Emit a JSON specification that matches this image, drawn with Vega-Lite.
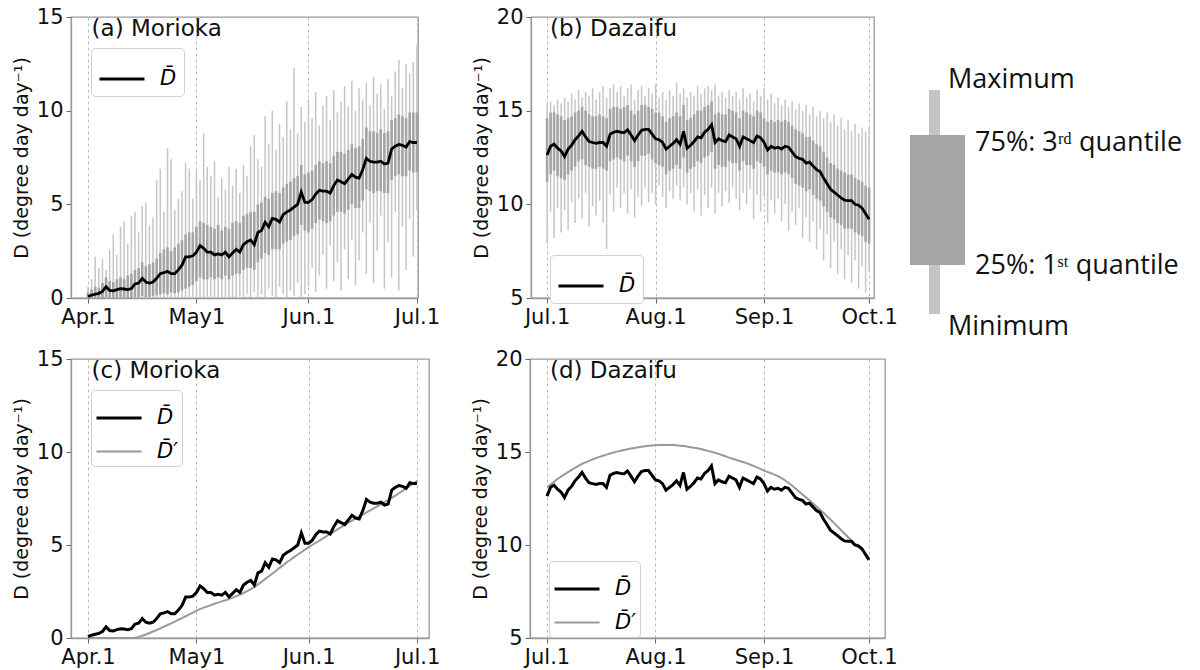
{
"$schema": "https://vega.github.io/schema/vega-lite/v6.json",
"background": "white",
"padding": {"left": 11, "top": 5, "right": 0, "bottom": 0},
"config": {
 "font": "DejaVu Sans",
 "view": {"stroke": "#999", "strokeWidth": 1.3},
 "axis": {"labelFont": "DejaVu Sans", "labelFontSize": 21, "labelColor": "#111", "tickColor": "#666", "tickSize": 5, "domainColor": "#999", "domainWidth": 1.3, "titleFont": "DejaVu Sans", "titleFontSize": 19, "titleFontWeight": "normal", "titleColor": "#111", "labelPadding": 3, "labelFlush": false, "labelOverlap": false},
 "axisX": {"grid": true, "gridDash": [3, 3], "gridColor": "#bbb", "gridWidth": 1},
 "axisY": {"grid": false, "titlePadding": 5},
 "legend": {"orient": "none", "fillColor": "white", "strokeColor": "#d0d0d0", "cornerRadius": 4, "padding": 7, "symbolType": "stroke", "symbolSize": 2025, "labelFont": "DejaVu Sans", "labelFontSize": 21, "labelFontStyle": "italic", "labelOffset": 14, "rowPadding": 0}
},
"datasets": {
 "mor": [
{"d":0,"m":0.08,"q1":0,"q3":0.3,"mn":0,"mx":0.6,"p":0},
{"d":1,"m":0.15,"q1":0,"q3":0.45,"mn":0,"mx":1.0,"p":0},
{"d":2,"m":0.2,"q1":0,"q3":0.6,"mn":0,"mx":2.2,"p":0},
{"d":3,"m":0.25,"q1":0,"q3":0.55,"mn":0,"mx":1.6,"p":0},
{"d":4,"m":0.35,"q1":0,"q3":0.8,"mn":0,"mx":2.1,"p":0},
{"d":5,"m":0.6,"q1":0.05,"q3":1.1,"mn":0,"mx":1.5,"p":0},
{"d":6,"m":0.4,"q1":0,"q3":0.9,"mn":0,"mx":2.6,"p":0},
{"d":7,"m":0.38,"q1":0,"q3":0.85,"mn":0,"mx":3.4,"p":0},
{"d":8,"m":0.45,"q1":0,"q3":1.0,"mn":0,"mx":2.3,"p":0},
{"d":9,"m":0.5,"q1":0,"q3":1.1,"mn":0,"mx":3.8,"p":0},
{"d":10,"m":0.48,"q1":0,"q3":1.0,"mn":0,"mx":4.1,"p":0},
{"d":11,"m":0.45,"q1":0,"q3":1.2,"mn":0,"mx":2.9,"p":0},
{"d":12,"m":0.5,"q1":0,"q3":1.3,"mn":0,"mx":4.4,"p":0},
{"d":13,"m":0.75,"q1":0.05,"q3":1.5,"mn":0,"mx":4.6,"p":0.02},
{"d":14,"m":0.8,"q1":0.05,"q3":1.6,"mn":0,"mx":3.5,"p":0.06},
{"d":15,"m":1.05,"q1":0.1,"q3":1.9,"mn":0,"mx":4.9,"p":0.12},
{"d":16,"m":0.85,"q1":0.05,"q3":1.7,"mn":0,"mx":5.1,"p":0.19},
{"d":17,"m":0.8,"q1":0.05,"q3":1.8,"mn":0,"mx":3.9,"p":0.27},
{"d":18,"m":0.85,"q1":0.1,"q3":1.9,"mn":0,"mx":4.3,"p":0.35},
{"d":19,"m":1.05,"q1":0.15,"q3":2.1,"mn":0,"mx":6.3,"p":0.43},
{"d":20,"m":1.3,"q1":0.2,"q3":2.4,"mn":0,"mx":6.9,"p":0.52},
{"d":21,"m":1.35,"q1":0.25,"q3":2.6,"mn":0,"mx":4.6,"p":0.61},
{"d":22,"m":1.42,"q1":0.2,"q3":2.7,"mn":0,"mx":8.0,"p":0.7},
{"d":23,"m":1.3,"q1":0.3,"q3":2.5,"mn":0,"mx":7.4,"p":0.79},
{"d":24,"m":1.3,"q1":0.25,"q3":2.7,"mn":0,"mx":4.7,"p":0.88},
{"d":25,"m":1.5,"q1":0.3,"q3":2.9,"mn":0,"mx":5.3,"p":0.98},
{"d":26,"m":1.75,"q1":0.4,"q3":3.1,"mn":0,"mx":5.7,"p":1.07},
{"d":27,"m":2.2,"q1":0.5,"q3":3.4,"mn":0,"mx":7.2,"p":1.17},
{"d":28,"m":2.2,"q1":0.6,"q3":3.5,"mn":0,"mx":6.9,"p":1.27},
{"d":29,"m":2.25,"q1":0.7,"q3":3.5,"mn":0,"mx":5.3,"p":1.37},
{"d":30,"m":2.45,"q1":0.9,"q3":3.8,"mn":0,"mx":6.8,"p":1.47},
{"d":31,"m":2.8,"q1":1.1,"q3":4.1,"mn":0,"mx":6.3,"p":1.55},
{"d":32,"m":2.65,"q1":1.0,"q3":4.0,"mn":0,"mx":8.8,"p":1.63},
{"d":33,"m":2.45,"q1":1.0,"q3":3.9,"mn":0,"mx":7.0,"p":1.7},
{"d":34,"m":2.45,"q1":1.1,"q3":3.8,"mn":0,"mx":6.5,"p":1.77},
{"d":35,"m":2.3,"q1":1.0,"q3":3.7,"mn":0,"mx":7.3,"p":1.84},
{"d":36,"m":2.35,"q1":1.1,"q3":3.9,"mn":0,"mx":5.4,"p":1.9},
{"d":37,"m":2.3,"q1":1.0,"q3":3.6,"mn":0,"mx":6.4,"p":1.97},
{"d":38,"m":2.45,"q1":1.2,"q3":3.8,"mn":0,"mx":5.8,"p":2.03},
{"d":39,"m":2.2,"q1":1.0,"q3":3.7,"mn":0,"mx":7.0,"p":2.1},
{"d":40,"m":2.4,"q1":1.2,"q3":4.0,"mn":0,"mx":6.0,"p":2.17},
{"d":41,"m":2.6,"q1":1.3,"q3":4.1,"mn":0,"mx":6.9,"p":2.25},
{"d":42,"m":2.45,"q1":1.3,"q3":4.0,"mn":0.1,"mx":5.6,"p":2.33},
{"d":43,"m":2.85,"q1":1.5,"q3":4.4,"mn":0,"mx":7.1,"p":2.42},
{"d":44,"m":3.0,"q1":1.6,"q3":4.5,"mn":0.2,"mx":6.5,"p":2.52},
{"d":45,"m":3.1,"q1":1.6,"q3":4.6,"mn":0,"mx":8.1,"p":2.63},
{"d":46,"m":2.85,"q1":1.5,"q3":4.6,"mn":0.3,"mx":8.7,"p":2.75},
{"d":47,"m":3.5,"q1":1.9,"q3":5.0,"mn":0,"mx":7.4,"p":2.88},
{"d":48,"m":3.6,"q1":2.1,"q3":5.1,"mn":0.2,"mx":7.0,"p":3.02},
{"d":49,"m":4.05,"q1":2.4,"q3":5.4,"mn":0,"mx":9.7,"p":3.17},
{"d":50,"m":3.8,"q1":2.3,"q3":5.3,"mn":0.5,"mx":8.2,"p":3.32},
{"d":51,"m":4.25,"q1":2.6,"q3":5.6,"mn":0.1,"mx":10.0,"p":3.47},
{"d":52,"m":4.2,"q1":2.6,"q3":5.7,"mn":0,"mx":7.9,"p":3.62},
{"d":53,"m":4.05,"q1":2.6,"q3":5.6,"mn":0.6,"mx":9.3,"p":3.77},
{"d":54,"m":4.45,"q1":2.9,"q3":5.9,"mn":0.2,"mx":8.6,"p":3.92},
{"d":55,"m":4.6,"q1":3.0,"q3":6.1,"mn":0,"mx":10.5,"p":4.07},
{"d":56,"m":4.7,"q1":3.1,"q3":6.2,"mn":0.4,"mx":9.0,"p":4.21},
{"d":57,"m":4.85,"q1":3.3,"q3":6.4,"mn":0.1,"mx":12.3,"p":4.35},
{"d":58,"m":5.0,"q1":3.4,"q3":6.5,"mn":0.8,"mx":8.8,"p":4.49},
{"d":59,"m":5.65,"q1":3.9,"q3":7.1,"mn":0,"mx":10.2,"p":4.62},
{"d":60,"m":5.1,"q1":3.6,"q3":6.6,"mn":0.2,"mx":9.4,"p":4.75},
{"d":61,"m":5.1,"q1":3.5,"q3":6.7,"mn":0.6,"mx":10.6,"p":4.88},
{"d":62,"m":5.25,"q1":3.7,"q3":6.8,"mn":1.6,"mx":9.6,"p":5.0},
{"d":63,"m":5.55,"q1":4.0,"q3":7.1,"mn":0.3,"mx":11.0,"p":5.12},
{"d":64,"m":5.75,"q1":4.2,"q3":7.3,"mn":1.2,"mx":9.2,"p":5.24},
{"d":65,"m":5.7,"q1":4.1,"q3":7.2,"mn":2.3,"mx":10.3,"p":5.36},
{"d":66,"m":5.7,"q1":4.0,"q3":7.3,"mn":0.5,"mx":10.8,"p":5.48},
{"d":67,"m":5.6,"q1":4.1,"q3":7.2,"mn":2.8,"mx":9.5,"p":5.6},
{"d":68,"m":6.0,"q1":4.4,"q3":7.6,"mn":0.9,"mx":11.1,"p":5.72},
{"d":69,"m":6.3,"q1":4.6,"q3":7.8,"mn":1.9,"mx":9.9,"p":5.84},
{"d":70,"m":6.2,"q1":4.6,"q3":7.8,"mn":0.4,"mx":10.5,"p":5.96},
{"d":71,"m":6.1,"q1":4.5,"q3":7.7,"mn":2.6,"mx":11.3,"p":6.08},
{"d":72,"m":6.35,"q1":4.7,"q3":7.9,"mn":1.0,"mx":10.2,"p":6.2},
{"d":73,"m":6.6,"q1":5.0,"q3":8.2,"mn":3.1,"mx":11.6,"p":6.31},
{"d":74,"m":6.45,"q1":4.8,"q3":8.0,"mn":0.7,"mx":10.0,"p":6.42},
{"d":75,"m":6.4,"q1":4.8,"q3":8.1,"mn":2.0,"mx":11.2,"p":6.53},
{"d":76,"m":6.85,"q1":5.2,"q3":8.5,"mn":3.5,"mx":10.6,"p":6.64},
{"d":77,"m":7.45,"q1":5.8,"q3":9.1,"mn":1.3,"mx":11.5,"p":6.75},
{"d":78,"m":7.3,"q1":5.7,"q3":8.9,"mn":4.0,"mx":10.3,"p":6.86},
{"d":79,"m":7.25,"q1":5.6,"q3":8.9,"mn":0.8,"mx":11.8,"p":6.97},
{"d":80,"m":7.25,"q1":5.7,"q3":8.8,"mn":2.5,"mx":10.9,"p":7.08},
{"d":81,"m":7.3,"q1":5.7,"q3":9.0,"mn":4.4,"mx":11.4,"p":7.19},
{"d":82,"m":7.15,"q1":5.6,"q3":8.8,"mn":0.5,"mx":10.1,"p":7.3},
{"d":83,"m":7.2,"q1":5.6,"q3":8.9,"mn":3.0,"mx":11.7,"p":7.41},
{"d":84,"m":7.95,"q1":6.3,"q3":9.5,"mn":1.1,"mx":10.8,"p":7.53},
{"d":85,"m":8.1,"q1":6.5,"q3":9.6,"mn":4.6,"mx":12.1,"p":7.65},
{"d":86,"m":8.2,"q1":6.6,"q3":9.8,"mn":0.4,"mx":12.7,"p":7.78},
{"d":87,"m":8.15,"q1":6.5,"q3":9.7,"mn":3.8,"mx":11.2,"p":7.91},
{"d":88,"m":8.05,"q1":6.5,"q3":9.6,"mn":1.5,"mx":12.5,"p":8.04},
{"d":89,"m":8.35,"q1":6.8,"q3":9.9,"mn":4.2,"mx":12.0,"p":8.17},
{"d":90,"m":8.3,"q1":6.7,"q3":9.9,"mn":2.2,"mx":12.6,"p":8.3},
{"d":91,"m":8.3,"q1":6.7,"q3":9.9,"mn":4.7,"mx":13.5,"p":8.45}
 ],
 "daz": [
{"d":0,"m":12.63,"q1":11.2,"q3":14.6,"mn":7.9,"mx":15.4,"p":13.1},
{"d":1,"m":13.1,"q1":11.6,"q3":14.9,"mn":9.6,"mx":15.5,"p":13.25},
{"d":2,"m":13.22,"q1":11.8,"q3":14.9,"mn":8.2,"mx":15.3,"p":13.4},
{"d":3,"m":13.0,"q1":11.5,"q3":14.8,"mn":9.8,"mx":15.6,"p":13.55},
{"d":4,"m":12.85,"q1":11.4,"q3":14.7,"mn":8.5,"mx":15.4,"p":13.68},
{"d":5,"m":12.55,"q1":11.3,"q3":14.5,"mn":9.7,"mx":15.7,"p":13.8},
{"d":6,"m":12.95,"q1":11.6,"q3":14.6,"mn":8.6,"mx":15.5,"p":13.92},
{"d":7,"m":13.15,"q1":11.8,"q3":14.7,"mn":10.1,"mx":15.9,"p":14.04},
{"d":8,"m":13.45,"q1":12.0,"q3":14.9,"mn":9.0,"mx":15.6,"p":14.15},
{"d":9,"m":13.65,"q1":12.3,"q3":15.0,"mn":10.3,"mx":16.1,"p":14.26},
{"d":10,"m":13.9,"q1":12.4,"q3":15.2,"mn":9.2,"mx":15.7,"p":14.36},
{"d":11,"m":13.6,"q1":12.1,"q3":15.0,"mn":10.6,"mx":16.0,"p":14.44},
{"d":12,"m":13.35,"q1":12.0,"q3":14.8,"mn":8.8,"mx":15.8,"p":14.52},
{"d":13,"m":13.3,"q1":11.9,"q3":14.7,"mn":9.9,"mx":16.2,"p":14.6},
{"d":14,"m":13.26,"q1":11.9,"q3":14.7,"mn":9.4,"mx":15.6,"p":14.67},
{"d":15,"m":13.3,"q1":12.0,"q3":14.8,"mn":10.2,"mx":16.0,"p":14.74},
{"d":16,"m":13.3,"q1":11.9,"q3":14.7,"mn":9.0,"mx":16.3,"p":14.8},
{"d":17,"m":13.1,"q1":11.8,"q3":14.6,"mn":7.6,"mx":15.7,"p":14.86},
{"d":18,"m":13.75,"q1":12.3,"q3":15.1,"mn":10.5,"mx":16.2,"p":14.92},
{"d":19,"m":13.85,"q1":12.4,"q3":15.2,"mn":9.6,"mx":16.4,"p":14.97},
{"d":20,"m":13.9,"q1":12.5,"q3":15.2,"mn":10.9,"mx":16.0,"p":15.02},
{"d":21,"m":13.85,"q1":12.4,"q3":15.1,"mn":9.8,"mx":16.3,"p":15.07},
{"d":22,"m":13.82,"q1":12.3,"q3":15.2,"mn":10.6,"mx":15.8,"p":15.11},
{"d":23,"m":13.98,"q1":12.6,"q3":15.3,"mn":9.5,"mx":16.2,"p":15.15},
{"d":24,"m":13.7,"q1":12.3,"q3":15.0,"mn":10.8,"mx":16.4,"p":15.19},
{"d":25,"m":13.4,"q1":12.0,"q3":14.8,"mn":9.3,"mx":15.6,"p":15.22},
{"d":26,"m":13.7,"q1":12.3,"q3":15.0,"mn":10.4,"mx":16.1,"p":15.25},
{"d":27,"m":13.95,"q1":12.6,"q3":15.3,"mn":9.9,"mx":16.3,"p":15.28},
{"d":28,"m":14.0,"q1":12.6,"q3":15.3,"mn":10.9,"mx":15.8,"p":15.31},
{"d":29,"m":14.0,"q1":12.7,"q3":15.2,"mn":10.1,"mx":16.2,"p":15.33},
{"d":30,"m":13.75,"q1":12.4,"q3":15.1,"mn":10.6,"mx":15.9,"p":15.35},
{"d":31,"m":13.5,"q1":12.2,"q3":14.9,"mn":10.0,"mx":16.4,"p":15.36},
{"d":32,"m":13.45,"q1":12.1,"q3":14.9,"mn":11.0,"mx":15.7,"p":15.37},
{"d":33,"m":13.3,"q1":12.0,"q3":14.7,"mn":10.4,"mx":16.0,"p":15.38},
{"d":34,"m":12.95,"q1":11.6,"q3":14.4,"mn":9.8,"mx":15.6,"p":15.38},
{"d":35,"m":13.1,"q1":11.8,"q3":14.6,"mn":10.7,"mx":16.1,"p":15.38},
{"d":36,"m":13.25,"q1":11.9,"q3":14.7,"mn":10.3,"mx":15.8,"p":15.37},
{"d":37,"m":13.45,"q1":12.1,"q3":14.9,"mn":11.0,"mx":16.5,"p":15.36},
{"d":38,"m":13.2,"q1":11.9,"q3":14.7,"mn":10.2,"mx":15.9,"p":15.34},
{"d":39,"m":13.9,"q1":12.5,"q3":15.3,"mn":10.9,"mx":16.2,"p":15.32},
{"d":40,"m":13.0,"q1":11.7,"q3":14.5,"mn":10.0,"mx":15.7,"p":15.29},
{"d":41,"m":13.15,"q1":11.9,"q3":14.6,"mn":10.6,"mx":16.0,"p":15.26},
{"d":42,"m":13.35,"q1":12.0,"q3":14.8,"mn":9.6,"mx":15.8,"p":15.23},
{"d":43,"m":13.6,"q1":12.3,"q3":15.0,"mn":10.8,"mx":16.3,"p":15.2},
{"d":44,"m":13.55,"q1":12.2,"q3":15.0,"mn":9.4,"mx":15.9,"p":15.16},
{"d":45,"m":13.85,"q1":12.5,"q3":15.2,"mn":10.5,"mx":16.2,"p":15.11},
{"d":46,"m":14.0,"q1":12.6,"q3":15.3,"mn":9.8,"mx":16.3,"p":15.06},
{"d":47,"m":14.25,"q1":12.8,"q3":15.5,"mn":10.9,"mx":16.1,"p":15.01},
{"d":48,"m":13.3,"q1":11.9,"q3":14.8,"mn":9.5,"mx":16.4,"p":14.96},
{"d":49,"m":13.5,"q1":12.1,"q3":14.9,"mn":10.6,"mx":15.8,"p":14.9},
{"d":50,"m":13.4,"q1":12.0,"q3":14.8,"mn":9.9,"mx":16.0,"p":14.84},
{"d":51,"m":13.35,"q1":12.0,"q3":14.8,"mn":10.7,"mx":15.7,"p":14.77},
{"d":52,"m":13.7,"q1":12.3,"q3":15.1,"mn":10.1,"mx":16.1,"p":14.7},
{"d":53,"m":13.6,"q1":12.2,"q3":15.0,"mn":10.9,"mx":15.8,"p":14.64},
{"d":54,"m":13.5,"q1":12.2,"q3":14.9,"mn":10.3,"mx":16.0,"p":14.58},
{"d":55,"m":13.1,"q1":11.8,"q3":14.6,"mn":9.7,"mx":15.6,"p":14.52},
{"d":56,"m":13.6,"q1":12.3,"q3":15.0,"mn":10.6,"mx":16.2,"p":14.46},
{"d":57,"m":13.5,"q1":12.1,"q3":14.9,"mn":10.0,"mx":15.7,"p":14.4},
{"d":58,"m":13.4,"q1":12.1,"q3":14.8,"mn":10.8,"mx":15.9,"p":14.33},
{"d":59,"m":13.3,"q1":11.9,"q3":14.7,"mn":9.2,"mx":15.5,"p":14.25},
{"d":60,"m":13.65,"q1":12.3,"q3":15.0,"mn":10.5,"mx":16.1,"p":14.17},
{"d":61,"m":13.55,"q1":12.2,"q3":14.9,"mn":9.6,"mx":15.8,"p":14.09},
{"d":62,"m":13.3,"q1":12.0,"q3":14.6,"mn":10.4,"mx":16.2,"p":14.0},
{"d":63,"m":12.9,"q1":11.6,"q3":14.4,"mn":9.0,"mx":15.6,"p":13.93},
{"d":64,"m":13.1,"q1":11.8,"q3":14.5,"mn":10.2,"mx":15.9,"p":13.86},
{"d":65,"m":13.0,"q1":11.7,"q3":14.4,"mn":9.5,"mx":15.4,"p":13.78},
{"d":66,"m":13.05,"q1":11.7,"q3":14.5,"mn":10.3,"mx":15.7,"p":13.7},
{"d":67,"m":12.95,"q1":11.6,"q3":14.4,"mn":9.1,"mx":15.3,"p":13.6},
{"d":68,"m":13.1,"q1":11.7,"q3":14.5,"mn":10.0,"mx":15.6,"p":13.48},
{"d":69,"m":13.05,"q1":11.6,"q3":14.4,"mn":8.6,"mx":15.2,"p":13.35},
{"d":70,"m":12.8,"q1":11.4,"q3":14.2,"mn":9.6,"mx":15.5,"p":13.2},
{"d":71,"m":12.55,"q1":11.1,"q3":14.0,"mn":8.9,"mx":15.1,"p":13.04},
{"d":72,"m":12.45,"q1":11.0,"q3":13.9,"mn":9.8,"mx":15.4,"p":12.88},
{"d":73,"m":12.4,"q1":10.9,"q3":13.8,"mn":8.2,"mx":15.0,"p":12.72},
{"d":74,"m":12.2,"q1":10.7,"q3":13.6,"mn":9.3,"mx":15.3,"p":12.56},
{"d":75,"m":12.25,"q1":10.8,"q3":13.6,"mn":8.0,"mx":14.8,"p":12.4},
{"d":76,"m":12.05,"q1":10.5,"q3":13.4,"mn":9.1,"mx":15.2,"p":12.24},
{"d":77,"m":11.85,"q1":10.3,"q3":13.2,"mn":7.6,"mx":14.7,"p":12.07},
{"d":78,"m":11.75,"q1":10.2,"q3":13.1,"mn":8.7,"mx":15.0,"p":11.9},
{"d":79,"m":11.4,"q1":9.9,"q3":12.8,"mn":7.0,"mx":14.6,"p":11.73},
{"d":80,"m":11.1,"q1":9.6,"q3":12.5,"mn":8.4,"mx":14.9,"p":11.55},
{"d":81,"m":10.8,"q1":9.3,"q3":12.2,"mn":6.6,"mx":14.4,"p":11.37},
{"d":82,"m":10.65,"q1":9.2,"q3":12.1,"mn":8.0,"mx":14.8,"p":11.19},
{"d":83,"m":10.5,"q1":9.0,"q3":11.9,"mn":6.3,"mx":14.2,"p":11.0},
{"d":84,"m":10.35,"q1":8.9,"q3":11.8,"mn":7.6,"mx":14.6,"p":10.81},
{"d":85,"m":10.22,"q1":8.7,"q3":11.7,"mn":6.0,"mx":14.0,"p":10.62},
{"d":86,"m":10.2,"q1":8.7,"q3":11.6,"mn":7.3,"mx":14.5,"p":10.43},
{"d":87,"m":10.2,"q1":8.7,"q3":11.6,"mn":5.8,"mx":13.9,"p":10.25},
{"d":88,"m":10.0,"q1":8.5,"q3":11.4,"mn":7.0,"mx":14.3,"p":10.07},
{"d":89,"m":9.95,"q1":8.4,"q3":11.3,"mn":5.5,"mx":13.8,"p":9.9},
{"d":90,"m":9.8,"q1":8.3,"q3":11.2,"mn":6.7,"mx":14.1,"p":9.73},
{"d":91,"m":9.5,"q1":8.0,"q3":11.0,"mn":5.3,"mx":13.9,"p":9.55},
{"d":92,"m":9.2,"q1":7.9,"q3":10.9,"mn":6.4,"mx":14.1,"p":9.3}
 ],
 "box": [{"mn": -5.7, "q1": 11.7, "q3": 58, "mx": 74}],
 "lab": [{"a": "(a) Morioka", "b": "(b) Dazaifu", "c": "(c) Morioka", "d": "(d) Dazaifu"}]
},
"vconcat": [
 {
  "hconcat": [
   {
    "hconcat": [
     {
      "width": 347, "height": 281,
      "layer": [
       {"data": {"name": "mor"}, "mark": {"type": "rule", "color": "#c6c6c6", "strokeWidth": 1.5}, "encoding": {"x": {"field": "d", "type": "quantitative", "scale": {"domain": [-4.7, 91.3], "nice": false, "zero": false}, "axis": {"title": null, "values": [0, 30, 61, 91], "labelExpr": "datum.value==0?'Apr.1':datum.value==30?'May1':datum.value==61?'Jun.1':'Jul.1'"}}, "y": {"field": "mn", "type": "quantitative", "scale": {"domain": [0, 15], "nice": false}, "axis": {"values": [0, 5, 10, 15], "title": "D  (degree day day⁻¹)"}}, "y2": {"field": "mx"}}},
       {"data": {"name": "mor"}, "mark": {"type": "rule", "color": "#a4a4a4", "strokeWidth": 2.6}, "encoding": {"x": {"field": "d", "type": "quantitative"}, "y": {"field": "q1", "type": "quantitative"}, "y2": {"field": "q3"}}},
       {"data": {"name": "mor"}, "mark": {"type": "line", "strokeWidth": 2.8}, "encoding": {"x": {"field": "d", "type": "quantitative"}, "y": {"field": "m", "type": "quantitative"}, "color": {"datum": "m", "scale": {"domain": ["m"], "range": ["black"]}, "legend": {"title": null, "legendX": 20, "legendY": 31, "labelExpr": "'D\u0304'", "symbolStrokeWidth": 3}}}},
       {"data": {"name": "lab"}, "mark": {"type": "text", "align": "left", "baseline": "top", "fontSize": 23, "font": "DejaVu Sans", "color": "#111"}, "encoding": {"x": {"datum": 1.0, "type": "quantitative"}, "y": {"datum": 14.95, "type": "quantitative"}, "text": {"field": "a", "type": "nominal"}}}
      ]
     },
     {
      "width": 343, "height": 281,
      "layer": [
       {"data": {"name": "daz"}, "mark": {"type": "rule", "color": "#c6c6c6", "strokeWidth": 1.5}, "encoding": {"x": {"field": "d", "type": "quantitative", "scale": {"domain": [-4.6, 93.4], "nice": false, "zero": false}, "axis": {"title": null, "values": [0, 31, 62, 92], "labelExpr": "datum.value==0?'Jul.1':datum.value==31?'Aug.1':datum.value==62?'Sep.1':'Oct.1'"}}, "y": {"field": "mn", "type": "quantitative", "scale": {"domain": [5, 20], "nice": false, "zero": false}, "axis": {"values": [5, 10, 15, 20], "title": "D  (degree day day⁻¹)"}}, "y2": {"field": "mx"}}},
       {"data": {"name": "daz"}, "mark": {"type": "rule", "color": "#a4a4a4", "strokeWidth": 2.6}, "encoding": {"x": {"field": "d", "type": "quantitative"}, "y": {"field": "q1", "type": "quantitative"}, "y2": {"field": "q3"}}},
       {"data": {"name": "daz"}, "mark": {"type": "line", "strokeWidth": 2.8}, "encoding": {"x": {"field": "d", "type": "quantitative"}, "y": {"field": "m", "type": "quantitative"}, "color": {"datum": "m", "scale": {"domain": ["m"], "range": ["black"]}, "legend": {"title": null, "legendX": 19, "legendY": 238, "labelExpr": "'D\u0304'", "symbolStrokeWidth": 3}}}},
       {"data": {"name": "lab"}, "mark": {"type": "text", "align": "left", "baseline": "top", "fontSize": 23, "font": "DejaVu Sans", "color": "#111"}, "encoding": {"x": {"datum": 0.85, "type": "quantitative"}, "y": {"datum": 19.95, "type": "quantitative"}, "text": {"field": "b", "type": "nominal"}}}
      ]
     }
    ],
    "spacing": 30,
    "resolve": {"scale": {"color": "independent"}, "legend": {"color": "independent"}}
   },
   {
    "width": 300, "height": 281,
    "view": {"stroke": null},
    "data": {"name": "box"},
    "layer": [
     {"mark": {"type": "rect", "color": "#c4c4c4"}, "encoding": {"x": {"datum": 2.9, "type": "quantitative", "scale": {"domain": [0, 30], "nice": false}, "axis": null}, "x2": {"datum": 4.0}, "y": {"field": "mn", "type": "quantitative", "scale": {"domain": [0, 100], "nice": false}, "axis": null}, "y2": {"field": "mx"}}},
     {"mark": {"type": "rect", "color": "#a5a5a5"}, "encoding": {"x": {"datum": 1.0, "type": "quantitative"}, "x2": {"datum": 6.5}, "y": {"field": "q1", "type": "quantitative"}, "y2": {"field": "q3"}}},
     {"mark": {"type": "text", "align": "left", "baseline": "middle", "fontSize": 27, "font": "Open Sans", "color": "#111"}, "encoding": {"x": {"datum": 4.8, "type": "quantitative"}, "y": {"datum": 77.6, "type": "quantitative"}, "text": {"value": "Maximum"}}},
     {"mark": {"type": "text", "align": "left", "baseline": "middle", "fontSize": 27, "font": "Open Sans", "color": "#111"}, "encoding": {"x": {"datum": 7.5, "type": "quantitative"}, "y": {"datum": 55.2, "type": "quantitative"}, "text": {"value": "75%: 3ʳᵈ quantile"}}},
     {"mark": {"type": "text", "align": "left", "baseline": "middle", "fontSize": 27, "font": "Open Sans", "color": "#111"}, "encoding": {"x": {"datum": 7.5, "type": "quantitative"}, "y": {"datum": 11.4, "type": "quantitative"}, "text": {"value": "25%: 1ˢᵗ quantile"}}},
     {"mark": {"type": "text", "align": "left", "baseline": "middle", "fontSize": 27, "font": "Open Sans", "color": "#111"}, "encoding": {"x": {"datum": 4.8, "type": "quantitative"}, "y": {"datum": -10.3, "type": "quantitative"}, "text": {"value": "Minimum"}}}
    ]
   }
  ],
  "spacing": 2,
  "resolve": {"scale": {"color": "independent"}, "legend": {"color": "independent"}}
 },
 {
  "hconcat": [
   {
    "width": 358, "height": 279,
    "layer": [
     {"data": {"name": "mor"}, "mark": {"type": "line"}, "encoding": {"x": {"field": "d", "type": "quantitative", "scale": {"domain": [-4.7, 94.3], "nice": false, "zero": false}, "axis": {"title": null, "values": [0, 30, 61, 91], "labelExpr": "datum.value==0?'Apr.1':datum.value==30?'May1':datum.value==61?'Jun.1':'Jul.1'"}}, "y": {"field": "p", "type": "quantitative", "scale": {"domain": [0, 15], "nice": false}, "axis": {"values": [0, 5, 10, 15], "title": "D  (degree day day⁻¹)"}}, "color": {"datum": "mp", "scale": {"domain": ["m", "mp"], "range": ["black", "#999"]}, "legend": {"title": null, "legendX": 20, "legendY": 31, "padding": 4, "labelExpr": "datum.value=='m'?'D\u0304':'D\u0304\u2032'"}}, "strokeWidth": {"datum": "mp", "scale": {"domain": ["m", "mp"], "range": [3, 2]}, "legend": {"title": null, "legendX": 20, "legendY": 31, "padding": 4, "labelExpr": "datum.value=='m'?'D\u0304':'D\u0304\u2032'"}}}},
     {"data": {"name": "mor"}, "mark": {"type": "line"}, "encoding": {"x": {"field": "d", "type": "quantitative"}, "y": {"field": "m", "type": "quantitative"}, "color": {"datum": "m"}, "strokeWidth": {"datum": "m"}}},
     {"data": {"name": "lab"}, "mark": {"type": "text", "align": "left", "baseline": "top", "fontSize": 23, "font": "DejaVu Sans", "color": "#111"}, "encoding": {"x": {"datum": 1.0, "type": "quantitative"}, "y": {"datum": 14.95, "type": "quantitative"}, "text": {"field": "c", "type": "nominal"}}}
    ]
   },
   {
    "width": 355, "height": 279,
    "layer": [
     {"data": {"name": "daz"}, "mark": {"type": "line"}, "encoding": {"x": {"field": "d", "type": "quantitative", "scale": {"domain": [-4.86, 96.6], "nice": false, "zero": false}, "axis": {"title": null, "values": [0, 31, 62, 92], "labelExpr": "datum.value==0?'Jul.1':datum.value==31?'Aug.1':datum.value==62?'Sep.1':'Oct.1'"}}, "y": {"field": "p", "type": "quantitative", "scale": {"domain": [5, 20], "nice": false, "zero": false}, "axis": {"values": [5, 10, 15, 20], "title": "D  (degree day day⁻¹)"}}, "color": {"datum": "mp", "scale": {"domain": ["m", "mp"], "range": ["black", "#999"]}, "legend": {"title": null, "legendX": 19, "legendY": 202, "padding": 4, "labelExpr": "datum.value=='m'?'D\u0304':'D\u0304\u2032'"}}, "strokeWidth": {"datum": "mp", "scale": {"domain": ["m", "mp"], "range": [3, 2]}, "legend": {"title": null, "legendX": 19, "legendY": 202, "padding": 4, "labelExpr": "datum.value=='m'?'D\u0304':'D\u0304\u2032'"}}}},
     {"data": {"name": "daz"}, "mark": {"type": "line"}, "encoding": {"x": {"field": "d", "type": "quantitative"}, "y": {"field": "m", "type": "quantitative"}, "color": {"datum": "m"}, "strokeWidth": {"datum": "m"}}},
     {"data": {"name": "lab"}, "mark": {"type": "text", "align": "left", "baseline": "top", "fontSize": 23, "font": "DejaVu Sans", "color": "#111"}, "encoding": {"x": {"datum": 0.85, "type": "quantitative"}, "y": {"datum": 19.95, "type": "quantitative"}, "text": {"field": "d", "type": "nominal"}}}
    ]
   }
  ],
  "spacing": 29,
  "resolve": {"scale": {"color": "independent", "strokeWidth": "independent"}, "legend": {"color": "independent", "strokeWidth": "independent"}}
 }
],
"spacing": 7,
"resolve": {"scale": {"color": "independent", "strokeWidth": "independent"}, "legend": {"color": "independent", "strokeWidth": "independent"}}
}
